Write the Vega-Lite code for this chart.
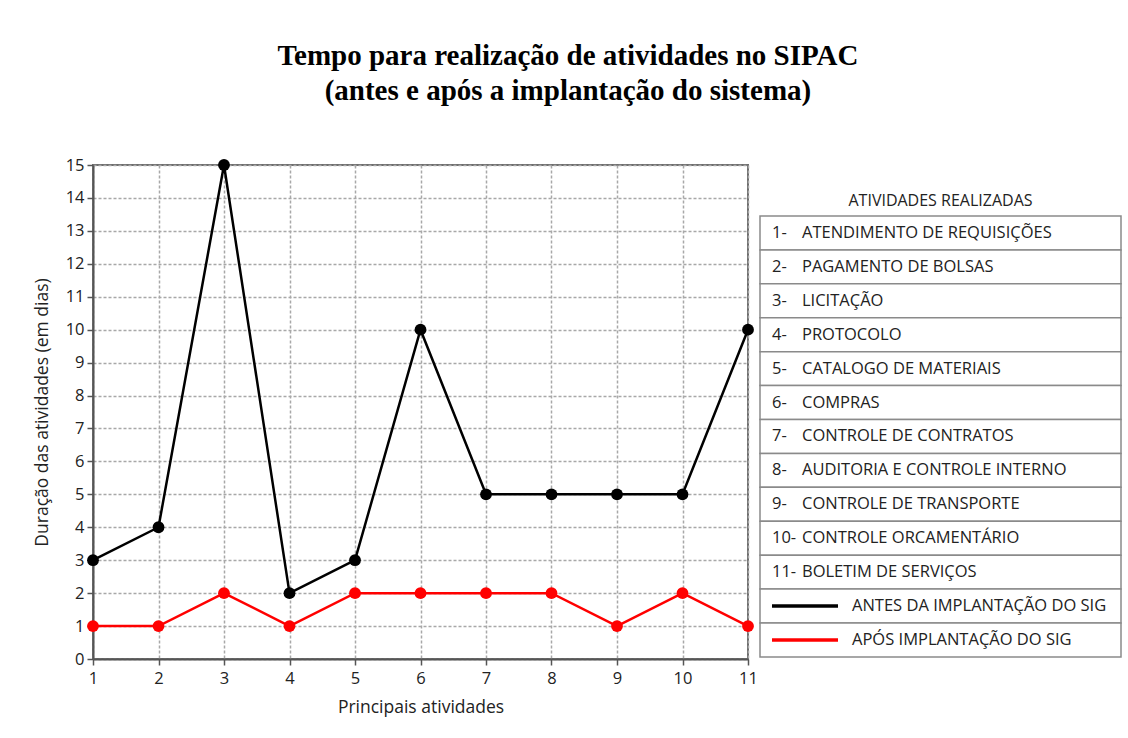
{
  "$schema": "https://vega.github.io/schema/vega-lite/v6.json",
  "autosize": {"type": "none"},
  "padding": {"left": 93, "top": 165, "right": 1035, "bottom": 573},
  "background": "white",
  "title": {
    "text": ["Tempo para realização de atividades no SIPAC", "(antes e após a implantação do sistema)"],
    "font": "Liberation Serif", "fontSize": 29, "fontWeight": "bold", "color": "#000000",
    "lineHeight": 35, "anchor": "middle", "offset": 50, "dx": -9
  },
  "bounds": "flush",
  "spacing": 12,
  "datasets": {
    "tempos": [
      {"atividade": 1, "serie": "Antes", "dias": 3},
      {"atividade": 2, "serie": "Antes", "dias": 4},
      {"atividade": 3, "serie": "Antes", "dias": 15},
      {"atividade": 4, "serie": "Antes", "dias": 2},
      {"atividade": 5, "serie": "Antes", "dias": 3},
      {"atividade": 6, "serie": "Antes", "dias": 10},
      {"atividade": 7, "serie": "Antes", "dias": 5},
      {"atividade": 8, "serie": "Antes", "dias": 5},
      {"atividade": 9, "serie": "Antes", "dias": 5},
      {"atividade": 10, "serie": "Antes", "dias": 5},
      {"atividade": 11, "serie": "Antes", "dias": 10},
      {"atividade": 1, "serie": "Após", "dias": 1},
      {"atividade": 2, "serie": "Após", "dias": 1},
      {"atividade": 3, "serie": "Após", "dias": 2},
      {"atividade": 4, "serie": "Após", "dias": 1},
      {"atividade": 5, "serie": "Após", "dias": 2},
      {"atividade": 6, "serie": "Após", "dias": 2},
      {"atividade": 7, "serie": "Após", "dias": 2},
      {"atividade": 8, "serie": "Após", "dias": 2},
      {"atividade": 9, "serie": "Após", "dias": 1},
      {"atividade": 10, "serie": "Após", "dias": 2},
      {"atividade": 11, "serie": "Após", "dias": 1}
    ],
    "tabela": [
      {"ordem": 0, "texto": "ATIVIDADES REALIZADAS"},
      {"ordem": 1, "num": "1-", "texto": "ATENDIMENTO DE REQUISIÇÕES"},
      {"ordem": 2, "num": "2-", "texto": "PAGAMENTO DE BOLSAS"},
      {"ordem": 3, "num": "3-", "texto": "LICITAÇÃO"},
      {"ordem": 4, "num": "4-", "texto": "PROTOCOLO"},
      {"ordem": 5, "num": "5-", "texto": "CATALOGO DE MATERIAIS"},
      {"ordem": 6, "num": "6-", "texto": "COMPRAS"},
      {"ordem": 7, "num": "7-", "texto": "CONTROLE DE CONTRATOS"},
      {"ordem": 8, "num": "8-", "texto": "AUDITORIA E CONTROLE INTERNO"},
      {"ordem": 9, "num": "9-", "texto": "CONTROLE DE TRANSPORTE"},
      {"ordem": 10, "num": "10-", "texto": "CONTROLE ORCAMENTÁRIO"},
      {"ordem": 11, "num": "11-", "texto": "BOLETIM DE SERVIÇOS"},
      {"ordem": 12, "serie": "Antes", "texto": "ANTES DA IMPLANTAÇÃO DO SIG"},
      {"ordem": 13, "serie": "Após", "texto": "APÓS IMPLANTAÇÃO DO SIG"}
    ]
  },
  "hconcat": [
    {
      "width": 655,
      "height": 494,
      "view": {"stroke": "#6e6e6e", "strokeWidth": 2},
      "data": {"name": "tempos"},
      "encoding": {
        "x": {
          "field": "atividade", "type": "quantitative",
          "scale": {"domain": [1, 11], "nice": false, "zero": false},
          "axis": {"values": [1,2,3,4,5,6,7,8,9,10,11], "format": "d", "title": "Principais atividades", "labelPadding": 5, "titlePadding": 12, "labelFlush": false}
        },
        "y": {
          "field": "dias", "type": "quantitative",
          "scale": {"domain": [0, 15], "nice": false},
          "axis": {"values": [0,1,2,3,4,5,6,7,8,9,10,11,12,13,14,15], "title": "Duração das atividades (em dias)", "labelPadding": 3, "titlePadding": 14}
        },
        "color": {
          "field": "serie", "type": "nominal",
          "scale": {"domain": ["Antes", "Após"], "range": ["#000000", "#ff0000"]},
          "legend": null
        }
      },
      "layer": [
        {"mark": {"type": "line", "strokeWidth": 2.5}},
        {"mark": {"type": "circle", "size": 140, "opacity": 1}}
      ]
    },
    {
      "width": 361,
      "height": 509,
      "view": {"stroke": null},
      "data": {"name": "tabela"},
      "encoding": {
        "y": {"field": "ordem", "type": "ordinal", "scale": {"paddingInner": 0, "paddingOuter": 0.504}, "axis": null}
      },
      "layer": [
        {
          "transform": [{"filter": "datum.ordem > 0"}],
          "mark": {"type": "rect", "fill": "white", "stroke": "#8a8a8a", "strokeWidth": 1.5}
        },
        {
          "transform": [{"filter": "datum.ordem == 0"}],
          "mark": {"type": "text", "align": "center", "baseline": "middle", "font": "Open Sans", "fontSize": 16, "color": "#222222", "dy": 2},
          "encoding": {"text": {"field": "texto"}}
        },
        {
          "transform": [{"filter": "datum.ordem > 0 && datum.ordem < 12"}],
          "mark": {"type": "text", "align": "left", "baseline": "middle", "font": "Open Sans", "fontSize": 16.5, "color": "#222222"},
          "encoding": {"text": {"field": "num"}, "x": {"value": 12}}
        },
        {
          "transform": [{"filter": "datum.ordem > 0 && datum.ordem < 12"}],
          "mark": {"type": "text", "align": "left", "baseline": "middle", "font": "Open Sans", "fontSize": 16.5, "color": "#222222"},
          "encoding": {"text": {"field": "texto"}, "x": {"value": 42}}
        },
        {
          "transform": [{"filter": "datum.ordem >= 12"}],
          "mark": {"type": "rule", "strokeWidth": 3.5},
          "encoding": {
            "x": {"value": 12}, "x2": {"value": 78},
            "color": {"field": "serie", "type": "nominal", "legend": null}
          }
        },
        {
          "transform": [{"filter": "datum.ordem >= 12"}],
          "mark": {"type": "text", "align": "left", "baseline": "middle", "font": "Open Sans", "fontSize": 16.5, "color": "#222222"},
          "encoding": {"text": {"field": "texto"}, "x": {"value": 92}}
        }
      ]
    }
  ],
  "config": {
    "font": "Open Sans",
    "axis": {
      "labelFont": "Open Sans", "labelFontSize": 16.5, "labelColor": "#222222",
      "titleFont": "Open Sans", "titleFontSize": 17.5, "titleFontWeight": "normal", "titleColor": "#222222",
      "domainColor": "#555555", "domainWidth": 2,
      "tickColor": "#555555", "tickWidth": 1.5, "tickSize": 6,
      "gridColor": "#a8a8a8", "gridDash": [3, 2], "gridWidth": 1.5
    }
  }
}
